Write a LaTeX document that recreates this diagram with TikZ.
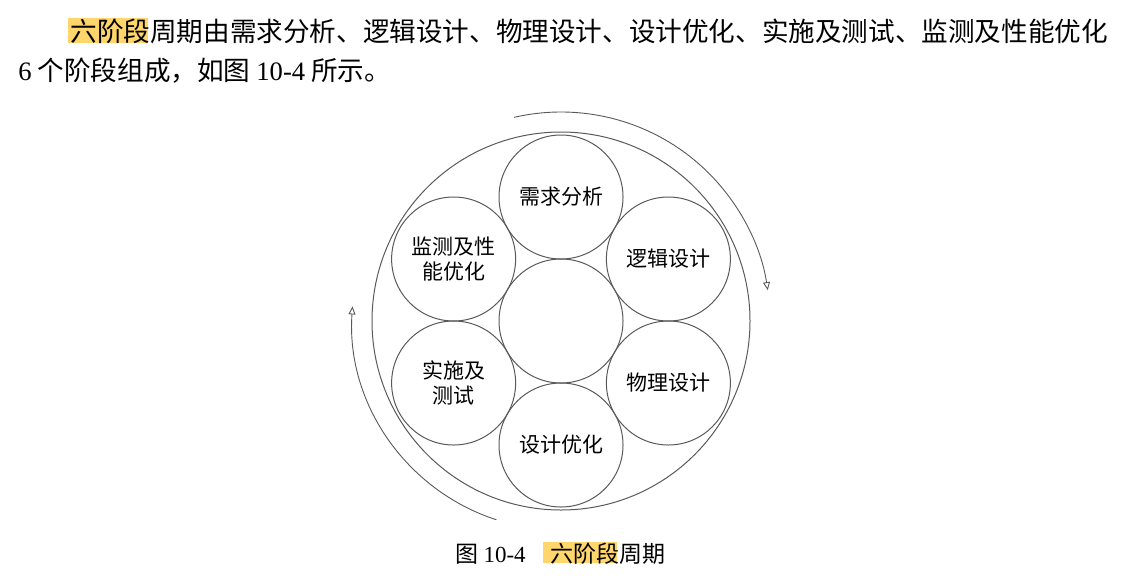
\documentclass[tikz,border=0pt]{standalone}
\usepackage{fontspec}
\setmainfont{Noto Sans CJK SC}
\newfontfamily\lat{Liberation Serif}
\usepackage{tikz}
\usetikzlibrary{arrows.meta}
\definecolor{hilite}{rgb}{1,0.84,0.42}
\definecolor{penGray}{gray}{0.35}

\begin{document}
\begin{tikzpicture}[x=0.5pt, y=0.5pt,
  body/.style={inner sep=0pt, anchor=base west, font=\fontsize{13.3}{16}\selectfont},
  capt/.style={inner sep=0pt, anchor=base west, font=\fontsize{11.5}{14}\selectfont},
  stage/.style={circle, draw=penGray, line width=0.5pt, minimum size=62pt, inner sep=0pt,
    align=center, font=\fontsize{10.5}{12.5}\selectfont},
  turnarrow/.style={penGray, line width=0.45pt, -{Triangle[open,length=4pt,width=3.5pt]}}]
 	\useasboundingbox (0,0) rectangle (1138,-584);
 	% page text
 	\fill[hilite] (68,-18) rectangle (148,-43);
 	\node[body] (lineA) at (70,-41) {六阶段周期由需求分析、逻辑设计、物理设计、设计优化、实施及测试、监测及性能优化};
 	\node[body] (lineB) at (18,-80) {{\lat 6} 个阶段组成，如图 {\lat 10-4} 所示。};
 	% ring of stages
 	\coordinate (O) at (561,-321);
 	\draw[penGray, line width=0.5pt] (O) circle[radius=94.5pt];
 	\node[stage] (hub) at (O) {};
 	\foreach \ang/\name/\txt in {90/need/需求分析, 30/logic/逻辑设计, -30/phys/物理设计,
 	    -90/tune/设计优化, -150/test/实施及\\测试, 150/watch/监测及性\\能优化}
 	  \node[stage] (\name) at ([shift={(\ang:124)}]O) {\txt};
 	\draw[turnarrow] ([shift={(103:209)}]O) arc[start angle=103, end angle=8.5, radius=104.5pt];
 	\draw[turnarrow] ([shift={(252:209)}]O) arc[start angle=252, end angle=176, radius=104.5pt];
 	% caption
 	\fill[hilite] (543,-542) rectangle (617,-563);
 	\node[capt] (capNum) at (455,-562) {图 {\lat 10-4}};
 	\node[capt] (capTitle) at (550,-562) {六阶段周期};
\end{tikzpicture}
\end{document}
